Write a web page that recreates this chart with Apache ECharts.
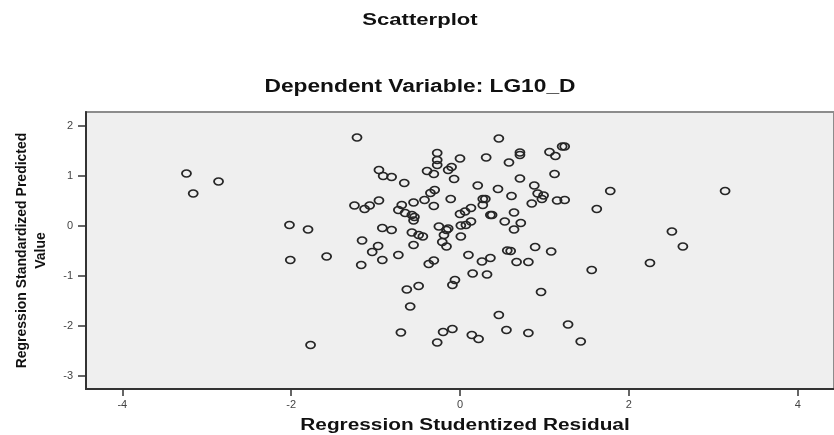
<!DOCTYPE html>
<html>
<head>
<meta charset="utf-8">
<script src="https://cdn.jsdelivr.net/npm/echarts@6/dist/echarts.min.js"></script>
<style>
  html, body { margin: 0; padding: 0; background: #fff; }
  #chart { width: 834px; height: 435px; }
</style>
</head>
<body>
<div id="chart"></div>
<script>
// x: Regression Studentized Residual, y: Regression Standardized Predicted Value
const studentizedResidual = [
  -3.24, -3.16, -2.86, -1.22, -2.02, -1.80, -2.01, -1.58, -1.77, -0.96,
  -0.91, -0.81, -0.66, -1.25, -1.13, -1.07, -0.96, -0.69, -0.73, -0.65,
  -0.92, -0.81, -1.16, -0.97, -1.04, -0.92, -1.17, -0.73, -0.63, -0.59,
  -0.70,
  0.46, -0.27, -0.27, -0.27, 0.00, -0.39, -0.31, -0.14, -0.10, -0.07,
  0.31, 0.58, 0.71, 0.71, 1.06, 1.13, 1.21, 1.24, 1.12, 0.71,
  -0.55, -0.42, -0.35, -0.30, -0.31, -0.11, 0.21, 0.45, 0.61, 0.88,
  0.92, 0.99, 0.97, 0.85, 1.15, 1.24, 1.78, 3.14, 1.62, 0.27,
  0.30, 0.27, 0.13, 0.06, 0.00, 0.36, 0.38, 0.64, 0.53, 0.64,
  0.72,
  -0.57, -0.54, -0.55, -0.25, -0.14, -0.16, -0.19, 0.01, 0.07, 0.13,
  0.01, -0.57, -0.49, -0.44, -0.55, -0.21, -0.16, 0.10, 0.36, 0.26,
  0.56, 0.60, 0.89, 1.08, 0.67, 0.81, -0.37, -0.31, 0.15, 0.32,
  -0.06, -0.09, -0.49, 1.56, 2.25, 2.51, 2.64, 0.96, 0.46, 1.28,
  -0.09, -0.20, 0.55, 0.81, 0.14, 0.22, -0.27, 1.43
]
const standardizedPredicted = [
  1.04, 0.64, 0.88, 1.76, 0.01, -0.08, -0.69, -0.62, -2.39, 1.11,
  0.99, 0.97, 0.85, 0.40, 0.33, 0.40, 0.50, 0.41, 0.31, 0.25,
  -0.05, -0.09, -0.30, -0.41, -0.53, -0.69, -0.79, -0.59, -1.28, -1.62,
  -2.14,
  1.74, 1.45, 1.31, 1.21, 1.34, 1.09, 1.03, 1.11, 1.17, 0.93,
  1.36, 1.26, 1.46, 1.41, 1.47, 1.39, 1.58, 1.58, 1.03, 0.94,
  0.46, 0.51, 0.65, 0.71, 0.39, 0.53, 0.80, 0.73, 0.59, 0.80,
  0.64, 0.60, 0.53, 0.44, 0.50, 0.51, 0.69, 0.69, 0.33, 0.53,
  0.53, 0.41, 0.35, 0.28, 0.23, 0.21, 0.21, 0.26, 0.08, -0.08,
  0.05,
  0.21, 0.17, 0.10, -0.02, -0.06, -0.09, -0.19, 0.00, 0.01, 0.08,
  -0.22, -0.14, -0.19, -0.22, -0.39, -0.33, -0.42, -0.59, -0.65, -0.72,
  -0.50, -0.51, -0.43, -0.52, -0.73, -0.73, -0.77, -0.70, -0.96, -0.98,
  -1.09, -1.19, -1.21, -0.89, -0.75, -0.12, -0.42, -1.33, -1.79, -1.98,
  -2.07, -2.13, -2.09, -2.15, -2.19, -2.27, -2.34, -2.32
]
const xTicks = [-4, -2, 0, 2, 4]
const yTicks = [-3, -2, -1, 0, 1, 2]

const points = studentizedResidual.map((x, i) => [x, standardizedPredicted[i]])

const chart = echarts.init(document.getElementById('chart'))

// the source picture is a bit stretched sideways, so the titles get scaleX
const stretch = 1.3
const titleFont = '"Liberation Sans", Arial, sans-serif'

const option = {
  animation: false,
  graphic: [
    {
      type: 'text',
      x: 420,
      y: 20,
      scaleX: stretch,
      style: {
        text: 'Scatterplot',
        fontSize: 17,
        fontWeight: 'bold',
        fontFamily: titleFont,
        fill: '#111',
        align: 'center',
        verticalAlign: 'middle',
      },
    },
    {
      type: 'text',
      x: 420,
      y: 87,
      scaleX: stretch,
      style: {
        text: 'Dependent Variable: LG10_D',
        fontSize: 17.5,
        fontWeight: 'bold',
        fontFamily: titleFont,
        fill: '#111',
        align: 'center',
        verticalAlign: 'middle',
      },
    },
    {
      type: 'text',
      x: 465,
      y: 426,
      scaleX: stretch,
      style: {
        text: 'Regression Studentized Residual',
        fontSize: 16,
        fontWeight: 'bold',
        fontFamily: titleFont,
        fill: '#111',
        align: 'center',
        verticalAlign: 'middle',
      },
    },
  ],
  grid: {
    left: 86,
    top: 112,
    width: 758,
    height: 277,
    show: true,
    backgroundColor: '#efefef',
    borderColor: '#8c8c8c',
    borderWidth: 2,
  },
  xAxis: {
    type: 'value',
    min: -4.43,
    max: 4.43,
    axisLine: { show: true, onZero: false, lineStyle: { color: '#333', width: 2 } },
    axisTick: { show: true, customValues: xTicks, length: 7, lineStyle: { color: '#333', width: 1.5 } },
    axisLabel: {
      customValues: xTicks,
      color: '#444',
      fontSize: 11,
      fontFamily: titleFont,
      margin: 10,
    },
    splitLine: { show: false },
  },
  yAxis: {
    type: 'value',
    min: -3.27,
    max: 2.27,
    name: 'Regression Standardized Predicted\nValue',
    nameLocation: 'middle',
    nameRotate: 90,
    nameGap: 35,
    nameTextStyle: {
      fontSize: 14,
      fontWeight: 'bold',
      fontFamily: titleFont,
      color: '#111',
      lineHeight: 19,
    },
    axisLine: { show: true, onZero: false, lineStyle: { color: '#333', width: 2 } },
    axisTick: { show: true, customValues: yTicks, length: 8, lineStyle: { color: '#333', width: 1.5 } },
    axisLabel: {
      customValues: yTicks,
      color: '#444',
      fontSize: 11,
      fontFamily: titleFont,
      margin: 13,
    },
    splitLine: { show: false },
  },
  series: [
    {
      type: 'scatter',
      data: points,
      symbol: 'circle',
      symbolSize: [9, 7],
      itemStyle: {
        color: 'rgba(0,0,0,0)',
        borderColor: '#262626',
        borderWidth: 1.6,
        opacity: 1,
      },
      emphasis: { disabled: true },
    },
  ],
}

chart.setOption(option)
</script>
</body>
</html>
